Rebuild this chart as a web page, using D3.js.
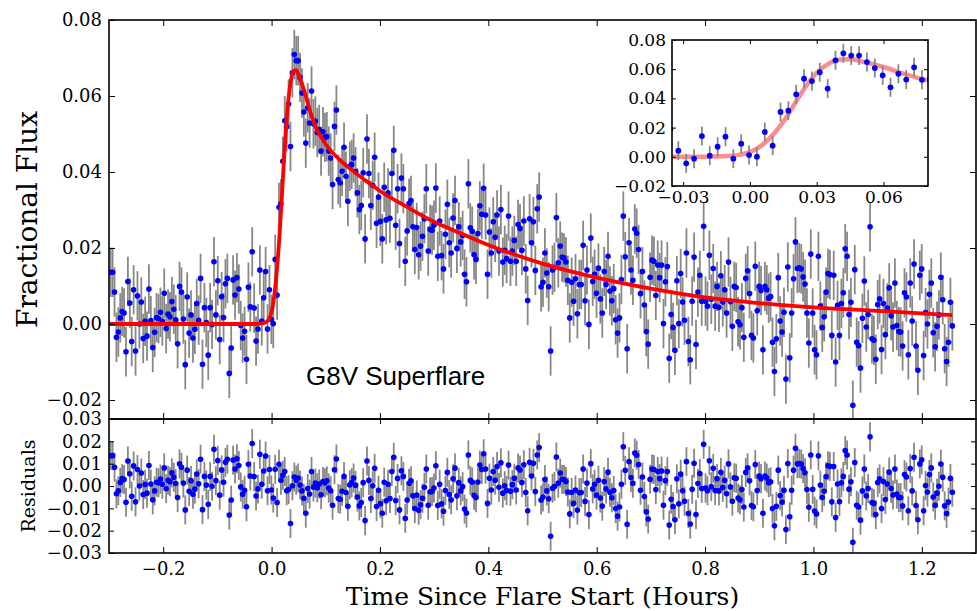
<!DOCTYPE html>
<html>
<head>
<meta charset="utf-8">
<script src="https://cdn.jsdelivr.net/npm/d3@7"></script>
<style>
  body { margin: 0; background: #fff; }
  svg { display: block; }
</style>
</head>
<body>
<script>
// --- 1. DATA (flux values are in units of 1e-3) ---
const cadence = 0.00353;     // hours between exposures
const firstTime = -0.2969;   // time of the first exposure (hours)
const fluxErr = 6.5;         // 1-sigma error bar, 1e-3

const flux = [
  13.6, 13.6, 8.4, -3.5, -2.1, 1.6, 3.3, 2.9, -7.3, 11.2,
  5.5, -4.6, 9.0, -7.1, 7.4, 0.0, 5.8, -3.8, 0.7, -3.2,
  9.2, 0.9, -6.2, -2.2, 1.7, 1.4, 3.1, 0.8, 8.1, -1.2,
  2.6, 1.9, 5.9, 3.9, 1.1, -5.2, 9.9, 8.4, 1.3, -10.7,
  7.1, -2.4, 2.4, -3.7, -1.4, 5.4, 1.0, 12.0, -10.6, 4.3,
  0.4, -8.2, 4.3, -0.1, 16.4, 2.4, 11.4, -4.1, 7.2, 1.7,
  10.6, 12.0, -13.0, -6.3, 11.6, 7.6, 12.2, 9.2, -0.4, -3.7,
  -1.9, -9.3, 9.7, 4.5,
  19.0, 4.2, -4.5, -1.3, 14.2, 0.8, 6.9, 13.8, -1.3, 9.0,
  1.2, 0.1, 17.0, 7.6, 30.7, 31.6, 42.8, 53.5, 51.9, 57.9,
  46.7, 66.1, 70.9, 69.3, 69.3, 64.9, 60.8, 55.8, 47.6, 56.9,
  52.9, 61.3, 52.7,
  53.4, 50.4, 51.2, 45.5, 50.6, 49.1, 49.3, 45.5, 43.7, 36.7,
  52.0, 56.3, 38.0, 37.1, 40.2, 46.5, 38.9, 32.3, 41.5, 42.0,
  43.7, 40.1, 34.5, 30.1, 31.2, 39.8, 22.4, 48.7, 39.6, 31.2,
  36.5, 43.9, 26.5, 33.4, 27.0, 22.4, 36.0, 27.4, 34.5, 27.8,
  39.6, 45.7, 26.0, 35.6, 21.2, 38.4, 35.6, 16.5, 24.5, 31.7,
  32.5, 25.6, 19.6, 25.4, 18.2, 20.5, 23.1, 27.7, 35.6, 19.2,
  24.9, 24.7, 26.0, 35.8, 17.8, 27.1, 18.0, 14.5, 23.6, 31.5,
  21.4, 18.7, 27.9, 32.5, 19.9, 25.6, 21.6, 23.3, 13.1, 11.1,
  36.9, 25.3, 24.4, 18.2, 17.0, 23.8, 31.1, 28.9, 35.7, 28.7,
  13.1, 24.2, 18.7, 26.9, 22.8, 28.7, 19.2, 30.1, 16.3, 19.4,
  17.2, 28.4, 16.5, 19.2, 22.0, 16.5, 26.2, 25.1, 19.4, 27.1,
  14.5, 6.2, 27.7, 21.4, 26.9, 14.1, 30.3, 33.4, 9.8, 11.0,
  18.7, 13.4, 9.8, -7.1, 14.2, 14.9, 28.0, 16.1, 20.5, 17.6,
  17.4, 16.3, 11.5, 1.6, 11.0, 6.0, 11.9, 2.7, 10.4, 10.4,
  20.7, 6.1, 14.2, -0.1, 22.6, 11.2, 13.1, 8.1, 14.7, 6.6,
  2.9, 13.8, 10.4, 17.8, 8.7, 6.1, 9.3, 1.1, -2.4, 1.6,
  11.7, 28.4, 17.7, -6.5, 21.4, 14.2, 11.5, 25.0, 23.9,
  19.6, 8.0, 13.8, 5.0, -2.0, -5.3, 12.3, 16.8, 16.5, 7.5,
  15.5, 12.2, 15.5, 0.1, 11.1, 15.1, -9.0, 2.5, -0.9, -6.9,
  11.4, 0.1, 13.3, 5.8, 1.0, 18.7, -4.6, -9.4, 6.0, 17.6,
  -5.4, 8.4, 12.8, 6.0, 25.7, 6.0, 4.7, 18.1, 6.5, 14.6,
  4.7, 9.9, 4.4, 12.7, 5.8, 9.0, 2.9, 16.3, 5.9, -0.6,
  9.9, 9.6, 0.6, -0.2, 4.3, -3.5, 12.0, 14.0, 8.0, -3.0,
  -3.7, 15.2, 3.5, 9.9, 8.8, -6.8, 9.9, 9.0, 6.8, 7.2,
  -4.8, -12.5, -3.9, 12.2, 0.8, -2.1, 3.1, -14.5, 15.0, -8.9,
  2.9, 11.9, 21.6, 14.6, 14.8, 14.5, 12.4, 10.5, 2.9, -5.0,
  18.4, 2.9, -6.8, -8.1, 17.8, 4.7, -0.9, 1.9, 8.4,
  13.3, 13.0, -3.0, 12.8, -10.0, 4.9, -3.0, 5.4, 8.2, 19.8,
  17.8, 2.5, 5.7, -21.4, 14.3, -4.8, -5.7, -11.6, 1.5, 11.3,
  -0.8, 2.5, 25.6, -3.9, -4.3, -9.3, 5.1, 6.6, -6.7, 5.4,
  -2.8, 4.2, 9.5, 2.2, -0.8, 10.8, -0.4, -2.0, -2.1, -5.8,
  8.2, 7.1, -8.1, 10.8, 0.8, 15.8, -5.8, -12.2, 12.8, 14.5,
  -8.3, 3.0, 0.0, 7.8, 10.8, -2.3, -6.0, -0.6, 2.4, 12.3,
  6.4, -6.5, -9.9, -4.8, 5.7, -0.5
];

const residuals = [
  13.6, 13.6, 8.4, -3.5, -2.1, 1.6, 3.3, 2.9, -7.3, 11.2,
  5.5, -4.6, 9.0, -7.1, 7.4, 0.0, 5.8, -3.8, 0.7, -3.2,
  9.2, 0.9, -6.2, -2.2, 1.7, 1.4, 3.1, 0.8, 8.1, -1.2,
  2.6, 1.9, 5.9, 3.9, 1.1, -5.2, 9.9, 8.4, 1.3, -10.7,
  7.1, -2.4, 2.4, -3.7, -1.4, 5.4, 1.0, 12.0, -10.6, 4.3,
  0.4, -8.2, 4.3, -0.1, 16.4, 2.4, 11.4, -4.1, 7.2, 1.7,
  10.6, 12.0, -13.0, -6.3, 11.6, 7.6, 12.2, 9.2, -0.4, -3.7,
  -1.9, -9.3, 9.7, 4.5,
  19.0, 4.2, -4.5, -1.3, 14.2, 0.8, 6.7, 13.4, -2.1, 7.4,
  -1.8, -5.4, 7.5, -7.4, 9.7, 2.6, 4.8, 6.5, -2.1, -1.6,
  -16.8, 0.1, 4.0, 2.6, 3.6, 0.4, -2.2, -5.5, -12.2, -1.1,
  -3.6, 6.5, -0.5,
  1.3, -0.8, 0.9, -3.9, 2.0, 1.4, 2.3, -0.9, -2.1, -8.6,
  7.3, 12.1, -5.6, -5.9, -2.4, 4.3, -2.9, -9.1, 0.5, 1.5,
  3.6, 0.3, -4.9, -8.9, -7.4, 1.5, -15.5, 11.2, 2.5, -5.6,
  0.1, 7.9, -9.2, -1.9, -7.9, -12.2, 1.7, -6.6, 0.8, -5.6,
  6.5, 12.9, -6.5, 3.4, -10.7, 6.8, 4.3, -14.5, -6.3, 1.2,
  2.3, -4.4, -10.1, -4.0, -10.9, -8.4, -5.5, -0.6, 7.6, -8.6,
  -2.6, -2.5, -0.9, 9.1, -8.7, 0.8, -8.0, -11.3, -2.0, 6.1,
  -3.8, -6.2, 3.2, 8.0, -4.4, 1.5, -2.2, -0.3, -10.3, -12.1,
  13.9, 2.5, 1.8, -4.2, -5.2, 1.8, 9.4, 7.4, 14.4, 7.6,
  -7.8, 3.5, -1.8, 6.5, 2.6, 8.7, -0.6, 10.4, -3.2, 0.1,
  -2.0, 9.4, -2.3, 0.6, 3.5, -1.8, 8.1, 7.2, 1.6, 9.5,
  -2.9, -11.1, 10.6, 4.5, 10.2, -2.5, 13.9, 17.2, -6.3, -4.9,
  2.9, -2.2, -5.7, -22.5, -1.0, -0.2, 13.0, 1.3, 5.8, 3.0,
  2.9, 2.0, -2.7, -12.5, -2.9, -7.8, -1.8, -10.8, -3.0, -2.9,
  7.6, -6.9, 1.3, -12.8, 10.0, -1.3, 0.8, -4.1, 2.6, -5.4,
  -9.0, 2.0, -1.3, 6.2, -2.8, -5.3, -2.0, -10.1, -13.5, -9.4,
  0.8, 17.6, 7.0, -17.1, 10.9, 3.8, 1.2, 14.8, 13.8,
  9.6, -1.9, 4.0, -4.7, -11.6, -14.8, 3.0, 7.6, 7.4, -1.6,
  6.5, 3.3, 6.7, -8.6, 2.4, 6.5, -17.5, -5.9, -9.2, -15.1,
  3.2, -8.0, 5.3, -2.1, -6.8, 10.9, -12.3, -17.0, -1.5, 10.2,
  -12.8, 1.1, 5.6, -1.1, 18.7, -0.9, -2.1, 11.3, -0.3, 7.9,
  -2.0, 3.3, -2.2, 6.1, -0.7, 2.6, -3.5, 9.9, -0.4, -6.8,
  3.7, 3.5, -5.4, -6.2, -1.6, -9.4, 6.1, 8.2, 2.3, -8.7,
  -9.3, 9.6, -2.0, 4.4, 3.3, -12.2, 4.5, 3.6, 1.5, 1.9,
  -10.1, -17.8, -9.1, 7.1, -4.3, -7.2, -1.9, -19.5, 10.1, -13.8,
  -1.9, 7.1, 16.9, 9.9, 10.1, 9.8, 7.8, 5.9, -1.6, -9.5,
  13.9, -1.5, -11.2, -12.5, 13.5, 0.4, -5.2, -2.4, 4.2,
  9.1, 8.8, -7.1, 8.7, -14.1, 0.9, -7.0, 1.4, 4.3, 15.9,
  13.9, -1.4, 1.9, -25.2, 10.5, -8.6, -9.4, -15.3, -2.2, 7.6,
  -4.4, -1.1, 22.0, -7.4, -7.8, -12.8, 1.6, 3.2, -10.1, 2.0,
  -6.1, 0.9, 6.2, -1.1, -4.0, 7.6, -3.6, -5.2, -5.2, -8.9,
  5.1, 4.0, -11.1, 7.8, -2.2, 12.9, -8.7, -15.1, 9.9, 11.7,
  -11.1, 0.2, -2.7, 5.1, 8.1, -4.9, -8.6, -3.2, -0.1, 9.8,
  3.9, -8.9, -12.3, -7.2, 3.4, -2.8
];

// flare model (red curve)
const modelTime = [-0.30, -0.05, -0.03, -0.02, -0.01, -0.005, 0.0, 0.005, 0.01, 0.015,
  0.02, 0.025, 0.03, 0.035, 0.04, 0.045, 0.05, 0.06, 0.07, 0.08,
  0.10, 0.125, 0.15, 0.175, 0.20, 0.25, 0.30, 0.35, 0.40, 0.50,
  0.60, 0.70, 0.80, 0.90, 1.00, 1.10, 1.20, 1.256];
const modelFlux = [0, 0, 0, 0.1, 0.5, 1.3, 3.2, 7.5, 14.5, 24,
  36, 48, 57.5, 63.5, 66.5, 66.8, 65.5, 61.5, 56.5, 52.3,
  47.3, 43.3, 40.3, 37.6, 35.0, 30.8, 26.9, 23.8, 20.8, 15.9,
  12.2, 9.3, 7.0, 5.5, 4.4, 3.6, 2.8, 2.3];

// tick labels
const timeTicks = [-0.2, 0.0, 0.2, 0.4, 0.6, 0.8, 1.0, 1.2];
const fluxTicks = [-20, 0, 20, 40, 60, 80];
const resTicks = [-30, -20, -10, 0, 10, 20, 30];
const insetTimeTicks = [-0.03, 0.0, 0.03, 0.06];
const insetFluxTicks = [-20, 0, 20, 40, 60, 80];

// --- 2. LAYOUT ---
const W = 977, H = 611;
const pLeft = 109, pRight = 976, pTop = 20, pSplit = 419, pBottom = 553;
const inset = { x0: 672, x1: 928, y0: 40, y1: 186 };
const serif = "DejaVu Serif";

const times = flux.map((_, i) => firstTime + i * cadence);
const pts = flux.map((f, i) => ({ t: times[i], f: f, r: residuals[i] }));

const x = d3.scaleLinear().domain([-0.3, 1.3]).range([pLeft, pRight]);
const yMain = d3.scaleLinear().domain([-25, 80]).range([pSplit, pTop]);
const yRes = d3.scaleLinear().domain([-30, 30]).range([pBottom, pSplit]);
const xIn = d3.scaleLinear().domain([-0.035, 0.08]).range([inset.x0, inset.x1]);
const yIn = d3.scaleLinear().domain([-20, 80]).range([inset.y1, inset.y0]);

const milli = d => d3.format(".2f")(d / 1000);

const svg = d3.select("body").append("svg")
    .attr("width", W).attr("height", H)
    .style("background", "#fff");

const defs = svg.append("defs");
function clip(id, x0, y0, x1, y1) {
    defs.append("clipPath").attr("id", id)
        .append("rect").attr("x", x0).attr("y", y0)
        .attr("width", x1 - x0).attr("height", y1 - y0);
    return `url(#${id})`;
}

// errorbars first, then markers on top (matplotlib errorbar order)
function drawPoints(g, data, xs, ys, key, r) {
    g.append("g").selectAll("line").data(data).join("line")
        .attr("x1", d => xs(d.t)).attr("x2", d => xs(d.t))
        .attr("y1", d => ys(d[key] - fluxErr)).attr("y2", d => ys(d[key] + fluxErr))
        .attr("stroke", "#888").attr("stroke-width", 1.8);
    g.append("g").selectAll("circle").data(data).join("circle")
        .attr("cx", d => xs(d.t)).attr("cy", d => ys(d[key]))
        .attr("r", r).attr("fill", "#0000ff");
}

function styleAxis(sel, size) {
    sel.select(".domain").remove();
    sel.selectAll(".tick line").attr("stroke", "#000").attr("stroke-width", 1);
    sel.selectAll("text").attr("font-family", serif).attr("font-size", size).attr("fill", "#000");
}

// --- 3. MAIN PANEL ---
const gMain = svg.append("g").attr("clip-path", clip("clipMain", pLeft, pTop, pRight, pSplit));
drawPoints(gMain, pts, x, yMain, "f", 2.8);

const modelLine = (xs, ys) => d3.line()
    .x((d, i) => xs(modelTime[i])).y(d => ys(d))
    .curve(d3.curveMonotoneX);

gMain.append("path").datum(modelFlux)
    .attr("d", modelLine(x, yMain))
    .attr("fill", "none").attr("stroke", "#ff0000").attr("stroke-width", 3.8);

svg.append("g").attr("transform", `translate(${pLeft},0)`)
    .call(d3.axisLeft(yMain).tickValues(fluxTicks).tickSize(-6).tickPadding(7).tickFormat(milli))
    .call(styleAxis, 18);
svg.append("g").attr("transform", `translate(${pRight},0)`)
    .call(d3.axisRight(yMain).tickValues(fluxTicks).tickSize(-6).tickFormat(""))
    .call(styleAxis, 18);
svg.append("g").attr("transform", `translate(0,${pTop})`)
    .call(d3.axisTop(x).tickValues(timeTicks).tickSize(-6).tickFormat(""))
    .call(styleAxis, 18);
svg.append("g").attr("transform", `translate(0,${pSplit})`)
    .call(d3.axisBottom(x).tickValues(timeTicks).tickSize(-6).tickFormat(""))
    .call(styleAxis, 18);

svg.append("text")
    .attr("x", 306).attr("y", 385)
    .attr("font-family", "Liberation Sans, Arial, sans-serif")
    .attr("font-size", 26).text("G8V Superflare");

// --- 4. RESIDUAL PANEL ---
const gRes = svg.append("g").attr("clip-path", clip("clipRes", pLeft, pSplit, pRight, pBottom));
drawPoints(gRes, pts, x, yRes, "r", 2.8);

svg.append("g").attr("transform", `translate(${pLeft},0)`)
    .call(d3.axisLeft(yRes).tickValues(resTicks).tickSize(-5).tickPadding(7).tickFormat(milli))
    .call(styleAxis, 18);
svg.append("g").attr("transform", `translate(${pRight},0)`)
    .call(d3.axisRight(yRes).tickValues(resTicks).tickSize(-5).tickFormat(""))
    .call(styleAxis, 18);
svg.append("g").attr("transform", `translate(0,${pSplit})`)
    .call(d3.axisTop(x).tickValues(timeTicks).tickSize(-5).tickFormat(""))
    .call(styleAxis, 18);
svg.append("g").attr("transform", `translate(0,${pBottom})`)
    .call(d3.axisBottom(x).tickValues(timeTicks).tickSize(-6).tickPadding(9).tickFormat(d3.format(".1f")))
    .call(styleAxis, 18);

// frames
[[pTop, pSplit], [pSplit, pBottom]].forEach(([a, b]) => {
    svg.append("rect").attr("x", pLeft).attr("y", a)
        .attr("width", pRight - pLeft).attr("height", b - a)
        .attr("fill", "none").attr("stroke", "#000").attr("stroke-width", 1.6);
});

// axis titles
svg.append("text")
    .attr("transform", `translate(37,${(pTop + pSplit) / 2}) rotate(-90)`)
    .attr("text-anchor", "middle").attr("font-family", serif).attr("font-size", 28)
    .text("Fractional Flux");
svg.append("text")
    .attr("transform", `translate(35,${(pSplit + pBottom) / 2}) rotate(-90)`)
    .attr("text-anchor", "middle").attr("font-family", serif).attr("font-size", 19)
    .text("Residuals");
svg.append("text")
    .attr("x", (pLeft + pRight) / 2).attr("y", 605)
    .attr("text-anchor", "middle").attr("font-family", serif).attr("font-size", 25)
    .text("Time Since Flare Start (Hours)");

// --- 5. INSET ---
svg.append("rect").attr("x", inset.x0).attr("y", inset.y0)
    .attr("width", inset.x1 - inset.x0).attr("height", inset.y1 - inset.y0)
    .attr("fill", "#fff");
const gIn = svg.append("g").attr("clip-path", clip("clipIn", inset.x0, inset.y0, inset.x1, inset.y1));
gIn.append("path").datum(modelFlux)
    .attr("d", modelLine(xIn, yIn))
    .attr("fill", "none").attr("stroke", "#ff0000").attr("stroke-opacity", 0.45)
    .attr("stroke-width", 4.5);
drawPoints(gIn, pts.filter(d => d.t > -0.04 && d.t < 0.085), xIn, yIn, "f", 2.9);

svg.append("g").attr("transform", `translate(${inset.x0},0)`)
    .call(d3.axisLeft(yIn).tickValues(insetFluxTicks).tickSize(-4).tickPadding(6).tickFormat(milli))
    .call(styleAxis, 17);
svg.append("g").attr("transform", `translate(${inset.x1},0)`)
    .call(d3.axisRight(yIn).tickValues(insetFluxTicks).tickSize(-4).tickFormat(""))
    .call(styleAxis, 17);
svg.append("g").attr("transform", `translate(0,${inset.y0})`)
    .call(d3.axisTop(xIn).tickValues(insetTimeTicks).tickSize(-4).tickFormat(""))
    .call(styleAxis, 17);
svg.append("g").attr("transform", `translate(0,${inset.y1})`)
    .call(d3.axisBottom(xIn).tickValues(insetTimeTicks).tickSize(-4).tickPadding(5).tickFormat(d3.format(".2f")))
    .call(styleAxis, 17);
svg.append("rect").attr("x", inset.x0).attr("y", inset.y0)
    .attr("width", inset.x1 - inset.x0).attr("height", inset.y1 - inset.y0)
    .attr("fill", "none").attr("stroke", "#000").attr("stroke-width", 1.6);
</script>
</body>
</html>
